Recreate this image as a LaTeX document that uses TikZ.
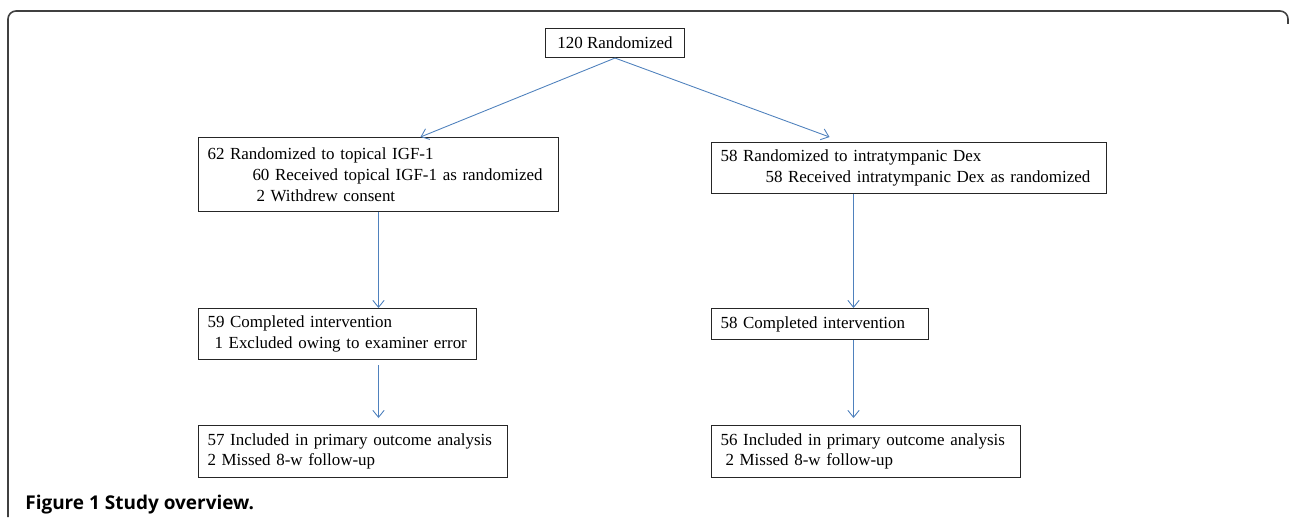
\documentclass[tikz,border=0pt]{standalone}
\usepackage{fontspec}
\setmainfont{Liberation Serif}
\newfontfamily\capfont{Open Sans}
\usepackage{xcolor}
\usetikzlibrary{arrows.meta,positioning,calc}
\definecolor{flowblue}{RGB}{79,129,189}
\definecolor{framegray}{RGB}{64,64,64}

\begin{document}
\begin{tikzpicture}[
    x=0.02cm, y=-0.02cm,
    box/.style={rectangle, draw=black!85, line width=0.6pt, anchor=north west, align=left, inner xsep=0.18cm, inner ysep=0pt, font=\fontsize{9.65}{11.8}\selectfont},
    arrow/.style={-{Straight Barb[length=4pt,width=6.5pt]}, line width=0.5pt, draw=flowblue},
    frame/.style={draw=framegray, line width=0.9pt, rounded corners=0.16cm}
]
    \useasboundingbox (0,0) rectangle (1290,517);
    \draw [frame] (8,517) -- (8,11) -- (1288,11) -- (1288,24);

    % randomisation and the two arms
    \node [box, align=center, minimum width=2.78cm, minimum height=0.58cm] (top) at (545,28) {120 Randomized};
    \node [box, text width=6.84cm, minimum height=1.48cm] (l1) at (198,137) {62 Randomized to topical IGF-1\\
        \hspace*{0.9cm}\mbox{60 Received topical IGF-1 as randomized}\\
        \hspace*{0.98cm}2 Withdrew consent};
    \node [box, text width=7.54cm, minimum height=1.02cm] (r1) at (711,142) {58 Randomized to intratympanic Dex\\
        \hspace*{0.9cm}\mbox{58 Received intratympanic Dex as randomized}};
    \node [box, text width=5.2cm, minimum height=1.02cm] (l2) at (198,308) {59 Completed intervention\\
        \hspace*{0.14cm}\mbox{1 Excluded owing to examiner error}};
    \node [box, text width=3.98cm, minimum height=0.62cm] (r2) at (711,308) {58 Completed intervention};
    \node [box, text width=5.82cm, minimum height=1.04cm] (l3) at (198,425) {\mbox{57 Included in primary outcome analysis}\\
        2 Missed 8-w follow-up};
    \node [box, text width=5.82cm, minimum height=1.04cm] (r3) at (711,425) {\mbox{56 Included in primary outcome analysis}\\
        \hspace*{0.1cm}2 Missed 8-w follow-up};

    \node [anchor=base west, inner sep=0pt, font=\fontsize{10.8}{12}\capfont\bfseries] (caption) at (25,509) {Figure 1 Study overview.};

    \coordinate (l1in) at ([xshift=0.84cm]l1.north);
    \coordinate (r1in) at ([xshift=-1.59cm, yshift=0.1cm]r1.north);
    \coordinate (rx) at ([xshift=-1.11cm]r1.south);

    \draw [arrow] (top.south) -- (l1in);
    \draw [arrow] (top.south) -- (r1in);
    \draw [arrow] (l1.south) -- (l1.south |- l2.north);
    \draw [arrow, shorten <=0.1cm, shorten >=0.14cm] (l1.south |- l2.south) -- (l1.south |- l3.north);
    \draw [arrow] (rx) -- (rx |- r2.north);
    \draw [arrow, shorten >=0.14cm] (rx |- r2.south) -- (rx |- r3.north);
\end{tikzpicture}
\end{document}
